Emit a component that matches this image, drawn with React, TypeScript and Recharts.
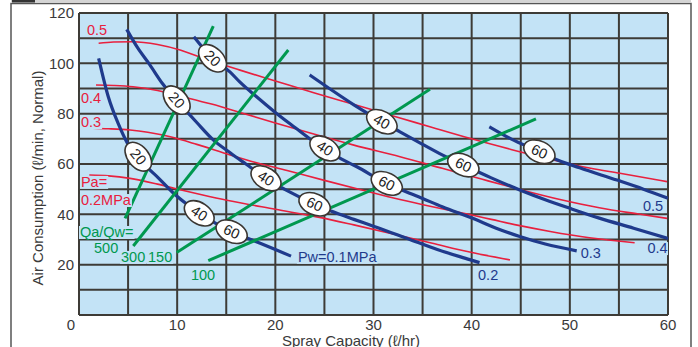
import React from "react";
import { ComposedChart, Line, Scatter, XAxis, YAxis, CartesianGrid } from "recharts";

type Pt = [number, number];

// water pressure curves Pw (MPa), blue
const PW_01: Pt[] = [[2, 102], [3, 86.5], [4, 76], [4.9, 68.5], [6, 62.9], [7, 58.5], [8, 54.8], [9.6, 48.5], [11, 44], [12.25, 40.4], [14, 36.3], [15.55, 33.1], [18, 29.2], [20, 26], [21.6, 23.4]];
const PW_02: Pt[] = [[4.86, 113.5], [6, 106], [7.2, 99.5], [8.5, 92], [9.95, 85.4], [12, 76.5], [13.7, 69.5], [15.4, 64.5], [17, 60], [19.05, 54.3], [21.5, 48.8], [24, 44], [25.6, 41.4], [28, 38], [30, 35.3], [33.7, 30], [36.5, 26], [39.8, 22], [40.8, 20.8]];
const PW_03: Pt[] = [[11.7, 110.6], [13.6, 102], [15.4, 96.5], [16.4, 92.5], [18, 87], [20, 80.5], [22, 74.5], [23.7, 69.5], [25.05, 66.2], [26.5, 62.5], [28.3, 58.9], [31.35, 52.3], [32.7, 50], [35, 46.3], [37, 43], [40.1, 38.4], [42.5, 34.5], [44.9, 31.2], [47.5, 28.2], [50.7, 25.5]];
const PW_04: Pt[] = [[23.5, 95.4], [25.5, 90], [28, 83.5], [30.85, 76.8], [32.7, 72.8], [35, 67.8], [37, 63.6], [39.15, 59.6], [42, 54.5], [44.9, 49.7], [47.5, 45.8], [50, 42.4], [53, 38.5], [56.5, 34.5], [60, 30.4]];
const PW_05: Pt[] = [[41.8, 74.8], [44, 70], [46.9, 64.9], [48.3, 62.3], [51, 58.5], [54.8, 53.6], [57.5, 50], [60, 46.4]];

// air pressure curves Pa (MPa), red
const PA_02: Pt[] = [[1.05, 55.6], [3, 55.3], [5.2, 54.3], [8, 52], [10.3, 49.8], [12.5, 47.8], [15.2, 45.5], [20, 42], [24.5, 38.8], [28, 35.8], [32, 32.2], [36, 28.5], [39.8, 25], [43.9, 21.9]];
const PA_03: Pt[] = [[1.4, 74.2], [3, 74], [5.2, 73.5], [7, 72.6], [9.3, 70.8], [12, 67.8], [15.4, 63.6], [18, 60.6], [21.2, 57.4], [25, 53.5], [29, 49.5], [32.7, 45.9], [36, 43], [39.8, 39.9], [42, 38], [44.9, 35.5], [48, 33.2], [52, 30.7], [56.6, 28.7]];
const PA_04: Pt[] = [[1.73, 91.4], [3.5, 91.2], [5.5, 90.7], [8, 89.2], [10.6, 86.7], [13.5, 83.8], [16.4, 80.5], [20, 76.3], [24, 71.8], [28, 67.5], [32.7, 62.9], [37, 58.3], [41, 54], [45, 49.8], [49, 45.9], [53, 42.6], [57, 40.1], [59.9, 38.4]];
const PA_05: Pt[] = [[2, 108], [3.5, 108.5], [5.5, 108.6], [8, 107.5], [10.3, 105.3], [13, 101.5], [16.4, 97.3], [20, 93], [24, 88.2], [27.6, 84.1], [32.7, 78.3], [36, 74.5], [39.8, 70.2], [44, 65.8], [48.3, 61.6], [52, 58.4], [55.1, 56.3], [59.9, 53]];

// Qa/Qw ratio lines, green
const QR_500: Pt[] = [[4.69, 38.4], [13.68, 114.8]];
const QR_300: Pt[] = [[5.53, 27.4], [21.32, 105.3]];
const QR_150: Pt[] = [[9.95, 24.8], [35.75, 89.7]];
const QR_100: Pt[] = [[13.17, 21.6], [46.55, 77.9]];

const PW_CURVES: Record<string, Pt[]> = { "0.1": PW_01, "0.2": PW_02, "0.3": PW_03, "0.4": PW_04, "0.5": PW_05 };

// oval markers sitting on the Pw curves
const OVALS = [
  { x: 6.04, y: 62.9, label: "20", curve: "0.1" },
  { x: 9.95, y: 85.4, label: "20", curve: "0.2" },
  { x: 13.6, y: 102, label: "20", curve: "0.3" },
  { x: 12.25, y: 40.4, label: "40", curve: "0.1" },
  { x: 15.55, y: 33.1, label: "60", curve: "0.1" },
  { x: 19.05, y: 54.3, label: "40", curve: "0.2" },
  { x: 24.0, y: 44, label: "60", curve: "0.2" },
  { x: 25.05, y: 66.2, label: "40", curve: "0.3" },
  { x: 31.35, y: 52.3, label: "60", curve: "0.3" },
  { x: 30.85, y: 76.8, label: "40", curve: "0.4" },
  { x: 39.15, y: 59.6, label: "60", curve: "0.4" },
  { x: 46.9, y: 64.9, label: "60", curve: "0.5" },
];

const RED_LABELS = [
  { x: 0.81, y: 111.3, text: "0.5" },
  { x: 0.2, y: 84.2, text: "0.4" },
  { x: 0.2, y: 74.7, text: "0.3" },
  { x: 0.2, y: 50.9, text: "Pa=" },
  { x: 0.2, y: 43.7, text: "0.2MPa" },
];
const GREEN_LABELS = [
  { x: 0.1, y: 31, text: "Qa/Qw=" },
  { x: 1.53, y: 24.6, text: "500" },
  { x: 4.28, y: 21.1, text: "300" },
  { x: 7.03, y: 21.1, text: "150" },
  { x: 11.4, y: 13.9, text: "100" },
];
const BLUE_LABELS = [
  { x: 22.3, y: 21.1, text: "Pw=0.1MPa" },
  { x: 40.65, y: 13.9, text: "0.2" },
  { x: 51.1, y: 22.6, text: "0.3" },
  { x: 57.9, y: 24.6, text: "0.4" },
  { x: 57.45, y: 41.3, text: "0.5" },
];

const X_TICKS = [0, 5, 10, 15, 20, 25, 30, 35, 40, 45, 50, 55, 60];
const Y_TICKS = [0, 10, 20, 30, 40, 50, 60, 70, 80, 90, 100, 110, 120];

const W = 698;
const H = 347;
const MARGIN = { top: 13, right: 30, bottom: 0, left: 0 };
const Y_AXIS_W = 79;
const X_AXIS_H = 32;
const PLOT_W = W - MARGIN.left - MARGIN.right - Y_AXIS_W;
const PLOT_H = H - MARGIN.top - MARGIN.bottom - X_AXIS_H;
const KX = PLOT_W / 60;
const KY = PLOT_H / 120;

const FONT = "'Liberation Sans', Arial, Helvetica, sans-serif";
const LABEL_SIZE = 14.5;
const BLUE = "#1f3a8c";
const RED = "#e8203e";
const GREEN = "#00984f";
const GRID = "#3d3b36";
const PLOT_BG = "#c3e3f6";
const TEXT = "#3a3a3a";

const rows = (pts: Pt[]) => pts.map(([x, y]) => ({ x, y }));

const measureCtx = typeof document !== "undefined" ? document.createElement("canvas").getContext("2d") : null;
function textWidth(s: string) {
  if (!measureCtx) return s.length * LABEL_SIZE * 0.56;
  measureCtx.font = `${LABEL_SIZE}px ${FONT}`;
  return measureCtx.measureText(s).width;
}

function interp(pts: Pt[], x: number) {
  for (let i = 0; i < pts.length - 1; i++) {
    const [x0, y0] = pts[i];
    const [x1, y1] = pts[i + 1];
    if (x >= x0 && x <= x1) return y0 + ((y1 - y0) * (x - x0)) / (x1 - x0);
  }
  return x < pts[0][0] ? pts[0][1] : pts[pts.length - 1][1];
}

function curveAngle(pts: Pt[], x: number) {
  const a = Math.max(pts[0][0], x - 0.7);
  const b = Math.min(pts[pts.length - 1][0], x + 0.7);
  const dy = interp(pts, b) - interp(pts, a);
  return (Math.atan2(-dy * KY, (b - a) * KX) * 180) / Math.PI;
}

const renderOval = (props: any) => {
  const { cx, cy, payload } = props;
  const angle = curveAngle(PW_CURVES[payload.curve], payload.x);
  return (
    <g transform={`translate(${cx},${cy}) rotate(${angle})`}>
      <ellipse rx={16.5} ry={10.5} fill="#ffffff" stroke="#3a3632" strokeWidth={1.6} />
      <text textAnchor="middle" dominantBaseline="central" fontSize={LABEL_SIZE} fontFamily={FONT} fill="#222">
        {payload.label}
      </text>
    </g>
  );
};

// labels sit on a patch of plot colour that hides the grid behind them
const textShape = (color: string) => (props: any) => {
  const w = textWidth(props.payload.text);
  return (
    <g>
      <rect x={props.cx - 1} y={props.cy - 11} width={w + 2} height={13} fill={PLOT_BG} />
      <text x={props.cx} y={props.cy} fill={color} fontSize={LABEL_SIZE} fontFamily={FONT}>
        {props.payload.text}
      </text>
    </g>
  );
};

const XTick = (props: any) => {
  const { x, y, payload } = props;
  const v = payload.value;
  if (v % 10 !== 0) return <g />;
  return (
    <text x={v === 0 ? x - 8 : x} y={y} dy="0.71em" textAnchor="middle" fill={TEXT} fontSize={15} fontFamily={FONT}>
      {v}
    </text>
  );
};

export default function App() {
  return (
    <div style={{ position: "fixed", left: 0, top: 0, width: W, height: H, background: "#fff", overflow: "hidden" }}>
      <ComposedChart width={W} height={H} margin={MARGIN}>
        <CartesianGrid stroke={GRID} strokeWidth={2} fill={PLOT_BG} fillOpacity={1} />
        <XAxis
          dataKey="x"
          type="number"
          domain={[0, 60]}
          ticks={X_TICKS}
          interval={0}
          height={X_AXIS_H}
          axisLine={false}
          tickLine={false}
          tickSize={0}
          tickMargin={4}
          tick={<XTick />}
          allowDataOverflow
        />
        <YAxis
          dataKey="y"
          type="number"
          domain={[0, 120]}
          ticks={Y_TICKS}
          interval={0}
          width={Y_AXIS_W}
          axisLine={false}
          tickLine={false}
          tickSize={0}
          tickMargin={5}
          tickFormatter={(v: number) => (v % 20 === 0 && v !== 0 ? String(v) : "")}
          tick={{ fill: TEXT, fontSize: 15, fontFamily: FONT }}
          allowDataOverflow
        />
        {[PA_02, PA_03, PA_04, PA_05].map((pts, i) => (
          <Line key={`pa${i}`} data={rows(pts)} dataKey="y" type="monotone" stroke={RED} strokeWidth={1.6} dot={false} isAnimationActive={false} />
        ))}
        {[PW_01, PW_02, PW_03, PW_04, PW_05].map((pts, i) => (
          <Line key={`pw${i}`} data={rows(pts)} dataKey="y" type="monotone" stroke={BLUE} strokeWidth={3.2} dot={false} isAnimationActive={false} />
        ))}
        {[QR_500, QR_300, QR_150, QR_100].map((pts, i) => (
          <Line key={`qr${i}`} data={rows(pts)} dataKey="y" type="linear" stroke={GREEN} strokeWidth={3} dot={false} isAnimationActive={false} />
        ))}
        <Scatter data={OVALS} shape={renderOval} isAnimationActive={false} />
        <Scatter data={RED_LABELS} shape={textShape(RED)} isAnimationActive={false} />
        <Scatter data={GREEN_LABELS} shape={textShape(GREEN)} isAnimationActive={false} />
        <Scatter data={BLUE_LABELS} shape={textShape(BLUE)} isAnimationActive={false} />
      </ComposedChart>
      <svg width={W} height={H} style={{ position: "absolute", left: 0, top: 0, pointerEvents: "none" }}>
        <line x1={11} y1={1} x2={691} y2={1} stroke="#aaa" strokeWidth={1} />
        <rect x={11} y={3.5} width={680} height={360} fill="none" stroke="#555" strokeWidth={1.5} />
        <rect x={12} y={0} width={23} height={2.5} fill="#333" />
        <text
          x={37}
          y={178}
          transform="rotate(-90 37 178)"
          textAnchor="middle"
          dominantBaseline="central"
          fill={TEXT}
          fontSize={15}
          fontFamily={FONT}
        >
          Air Consumption (ℓ/min, Normal)
        </text>
        <text x={351} y={346} textAnchor="middle" fill={TEXT} fontSize={15} fontFamily={FONT}>
          Spray Capacity (ℓ/hr)
        </text>
      </svg>
    </div>
  );
}
